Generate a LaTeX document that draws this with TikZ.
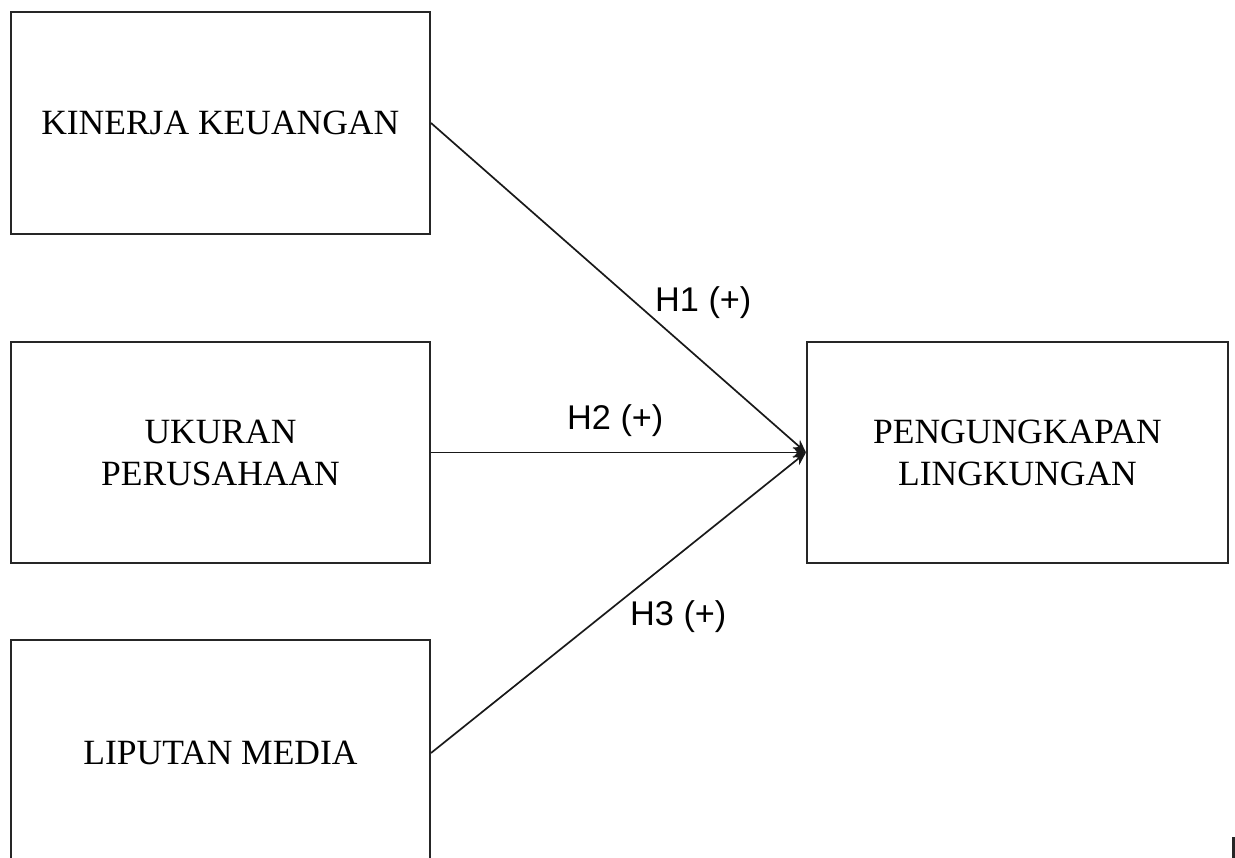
\documentclass[tikz,border=0pt]{standalone}
\usepackage{fontspec}
\setmainfont{Liberation Serif}
\newfontfamily\labelfont{Liberation Sans}
\usetikzlibrary{arrows.meta}
\begin{document}
\begin{tikzpicture}[x=1pt,y=-1pt,
  varbox/.style={draw=black!85,line width=2pt,inner sep=0pt,align=center,
    font=\fontsize{35.5}{42}\selectfont},
  link/.style={draw=black!90,line width=1.7pt,-{Stealth[length=13pt,width=11pt]}},
  hyplabel/.style={inner sep=0pt,anchor=base west,font=\labelfont\fontsize{34.3}{40}\selectfont}]
\useasboundingbox (0,0) rectangle (1235,858);
\node[varbox,minimum width=419.5pt,minimum height=222pt] (b1) at (220.25,123) {KINERJA KEUANGAN};
\node[varbox,minimum width=419pt,minimum height=221pt] (b2) at (220.5,452.5) {UKURAN\\PERUSAHAAN};
\node[varbox,minimum width=419pt,minimum height=226pt] (b3) at (220.5,753) {LIPUTAN MEDIA};
\node[varbox,minimum width=421pt,minimum height=221pt] (b4) at (1017.5,452.5) {PENGUNGKAPAN\\LINGKUNGAN};
\draw[link] (b1.east) -- (b4.west);
\draw[link] (b2.east) -- (b4.west);
\draw[link] (b3.east) -- (b4.west);
\node[hyplabel] (h1) at (655,312) {H1 (+)};
\node[hyplabel] (h2) at (567,430) {H2 (+)};
\node[hyplabel] (h3) at (630,625) {H3 (+)};
\fill[black!85] (1232,837) rectangle (1235,858);
\end{tikzpicture}
\end{document}
